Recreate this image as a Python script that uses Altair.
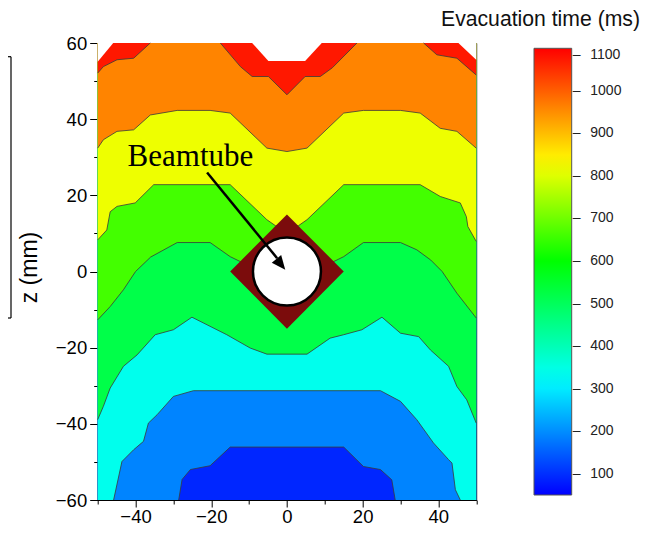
import altair as alt
import pandas as pd

# ---------------- data ----------------
X_DOMAIN = [-50, 50]
Z_DOMAIN = [-60, 60]
X_MAJOR = [-40, -20, 0, 20, 40]
X_MINOR = [-50, -30, -10, 10, 30, 50]
Z_MAJOR = [-60, -40, -20, 0, 20, 40, 60]
Z_MINOR = [-50, -30, -10, 10, 30, 50]

# colour bar (ms)
CBAR_TITLE = "Evacuation time (ms)"
CBAR_DOMAIN = [50, 320, 600, 830, 1100]
CBAR_COLORS = ["#0000ff", "#00ffff", "#00ff00", "#ffff00", "#ff0000"]
CBAR_TICKS = [100, 200, 300, 400, 500, 600, 700, 800, 900, 1000, 1100]

# contour levels (ms) and the value of the band lying above each contour
LEVELS = [150, 300, 450, 600, 750, 900, 1050]
FLOOR_VALUE = 90
BAND_VALUES = [190, 340, 520, 660, 815, 960, 1075]

# contour lines (x mm, z mm), one or more segments per level
C150 = [([-28.6, -27.7, -25.5, -20.3, -15, 15, 20.2, 24.7, 27.7, 28.6],
         [-60, -54.6, -52, -51, -46.1, -46.1, -51.2, -52, -54.7, -60])]
C300 = [([-45.8, -43.6, -40.5, -37.9, -36.6, -34.3, -30, -24.7, 24.7, 30, 34.3, 38.7, 42.7, 43.6, 44.5, 45.8],
         [-60, -49.9, -46.8, -44.6, -39.8, -37.6, -32.8, -31.3, -31.3, -34.1, -38.9, -45, -49.4, -50.3, -57.3, -60])]
C450 = [([-50, -48.5, -46.7, -43.2, -39.6, -34.8, -30, -25.1, -21.1, -15.9, -9.7, -5.3, 5.3, 11.4, 15, 19.8,
          25.1, 30, 34.8, 37.9, 42.7, 44.9, 47.5, 50],
         [-38.9, -35.4, -30.6, -24.9, -21.9, -16.6, -15.3, -12, -14, -16.6, -20.1, -21.7, -21.7, -17.5, -16.6, -15.3,
          -12, -16.2, -17.1, -20.6, -24.9, -30.2, -33.7, -39.8])]
C600 = [([-50, -46.7, -43.2, -40, -36, -29, -20.3, -15, -11.5, 11.5, 15, 20.2, 30, 34.3, 38, 41, 44.9, 50],
         [-12.7, -9.2, -4.8, 0, 3.8, 7.6, 7.6, 3.9, 2.2, 2.2, 3.9, 7.6, 7.6, 5.7, 3, 0, -5.7, -12.2])]
C750 = [([-50, -47.6, -46.7, -44.9, -40.1, -35.2, -15, -5.3, -3, 3, 5.3, 15, 35.2, 40.5, 45.8, 47.4, 47.8, 50],
         [8.3, 10.9, 15.7, 17.1, 18, 22.8, 22.8, 13.6, 12, 12, 13.6, 22.8, 22.8, 19.7, 18, 14.4, 11.8, 7.9])]
C900 = [([-50, -48.5, -44.9, -40.5, -36.1, -29, -20.3, -15, -5.3, 0, 5.3, 15, 20.2, 30, 35.2, 40.5, 44.9, 50],
         [32.4, 34.6, 36.8, 37.2, 41.1, 42.3, 42.3, 41.6, 32.4, 31.5, 32.4, 41.6, 42.3, 42.3, 41.6, 37.6, 36.8, 32.4])]
C1050 = [([-50, -48.5, -44.9, -40.5, -36.1], [52.1, 53.8, 55.6, 56, 60]),
         ([-17.6, -12.3, -9.2, -4.9, 0, 4.8, 8.8, 12, 18.5], [60, 53.8, 51.2, 51.2, 46.4, 51.2, 51.2, 53.5, 60]),
         ([36.1, 39.6, 44.9, 50], [60, 56.9, 56, 51.6])]
CONTOURS = [C150, C300, C450, C600, C750, C900, C1050]

# regions above the colour range (left white)
OVER = [([-50, -45.9], [55.1, 60]),
        ([-9.2, -4.9, 4.8, 9.2], [60, 55.3, 55.3, 60]),
        ([45.3, 50], [60, 55.6])]

# beam tube: square holder (rotated) and the tube itself
HOLDER_X = [-15, 0, 15]
HOLDER_LOW = [0, -15, 0]
HOLDER_HIGH = [0, 15, 0]
TUBE_X = [0]
TUBE_Z = [0]

# annotation
LABEL_TEXT = "Beamtube"
LABEL_X = [-25.5]
LABEL_Z = [27.6]
ARROW_START = (-21.1, 26.0)
ARROW_BASE = (-2.6, 3.5)
ARROW_TIP = (-0.45, 0.45)

# ---------------- build tables ----------------
def seg_table(segs, name, value=None, extend=False):
    rows = []
    for si, (xs, zs) in enumerate(segs):
        pts = list(zip(xs, zs))
        if extend:
            if pts[0][0] > X_DOMAIN[0]:
                pts = [(X_DOMAIN[0], pts[0][1])] + pts
            if pts[-1][0] < X_DOMAIN[1]:
                pts = pts + [(X_DOMAIN[1], pts[-1][1])]
        for i, (x, z) in enumerate(pts):
            row = {"x": x, "z": z, "top": Z_DOMAIN[1], "seg": f"{name}-{si}", "i": i}
            if value is not None:
                row["v"] = value
            rows.append(row)
    return pd.DataFrame(rows)


XS = alt.Scale(domain=X_DOMAIN, nice=False, zero=False)
ZS = alt.Scale(domain=Z_DOMAIN, nice=False, zero=False)
CS = alt.Scale(domain=CBAR_DOMAIN, range=CBAR_COLORS, interpolate="rgb")

LEG = alt.Legend(orient="none", legendX=436.3, legendY=5.3, direction="vertical",
                 gradientLength=446.7, gradientThickness=37.7, title=None, values=CBAR_TICKS,
                 labelFontSize=14, labelFont="Liberation Sans", labelColor="#222", format="d",
                 labelOffset=1, labelExpr="'\u2013\u2002\u2009' + datum.label",
                 gradientStrokeColor="#555", gradientStrokeWidth=1, labelOverlap=False)

AX_X_MAJOR = alt.Axis(values=X_MAJOR, tickSize=7, labelFontSize=18.5, labelPadding=0, title=None,
                      grid=False, orient="bottom", labelFlush=False, domainColor="black",
                      tickColor="black", labelColor="black")
AX_X_MINOR = alt.Axis(values=X_MINOR, tickSize=4, labels=False, domain=False, title=None,
                      grid=False, orient="bottom", tickColor="black")
AX_Z_MAJOR = alt.Axis(values=Z_MAJOR, tickSize=8, labelFontSize=18.5, labelPadding=3, title="z (mm)",
                      titleFontSize=23, titleFontWeight="normal", titlePadding=14, titleColor="black",
                      titleY=224, grid=False, orient="left", labelFlush=False, domainColor="black",
                      tickColor="black", labelColor="black")
AX_Z_MINOR = alt.Axis(values=Z_MINOR, tickSize=4, labels=False, domain=False, title=None,
                      grid=False, orient="left", tickColor="black")

layers = []

# floor band (below the first contour)
floor = seg_table([(X_DOMAIN, [Z_DOMAIN[0], Z_DOMAIN[0]])], "floor", FLOOR_VALUE)
layers.append(alt.Chart(floor).mark_area(opacity=1, line=False).encode(
    x=alt.X("x:Q", scale=XS, axis=AX_X_MAJOR),
    y=alt.Y("z:Q", scale=ZS, axis=AX_Z_MAJOR),
    y2="top:Q",
    color=alt.Color("v:Q", scale=CS, legend=LEG),
    detail="seg:N"))

# band above each contour
for lvl, segs, val in zip(LEVELS, CONTOURS, BAND_VALUES):
    t = seg_table(segs, f"b{lvl}", val, extend=(lvl in (150, 300)))
    layers.append(alt.Chart(t).mark_area(opacity=1).encode(
        x=alt.X("x:Q", scale=XS, axis=None),
        y=alt.Y("z:Q", scale=ZS, axis=None),
        y2="top:Q",
        color=alt.Color("v:Q", scale=CS, legend=LEG),
        detail="seg:N"))

# over range (white)
layers.append(alt.Chart(seg_table(OVER, "over")).mark_area(opacity=1, color="white").encode(
    x=alt.X("x:Q", scale=XS, axis=None), y=alt.Y("z:Q", scale=ZS, axis=None), y2="top:Q",
    detail="seg:N"))

# contour lines
lines = pd.concat([seg_table(s, f"c{l}") for l, s in zip(LEVELS, CONTOURS)], ignore_index=True)
layers.append(alt.Chart(lines).mark_line(color="#3a3a3a", strokeWidth=0.9, opacity=0.9).encode(
    x=alt.X("x:Q", scale=XS, axis=AX_X_MINOR),
    y=alt.Y("z:Q", scale=ZS, axis=AX_Z_MINOR),
    detail="seg:N", order="i:Q"))

# holder diamond
holder = pd.DataFrame({"x": HOLDER_X, "lo": HOLDER_LOW, "hi": HOLDER_HIGH})
layers.append(alt.Chart(holder).mark_area(color="#7b0c0c", opacity=1).encode(
    x=alt.X("x:Q", scale=XS, axis=None), y=alt.Y("lo:Q", scale=ZS, axis=None), y2="hi:Q"))

# tube
tube = pd.DataFrame({"x": TUBE_X, "z": TUBE_Z})
layers.append(alt.Chart(tube).mark_point(shape="circle", size=4624, filled=True, fill="white",
                                         stroke="black", strokeWidth=2.5, opacity=1).encode(
    x=alt.X("x:Q", scale=XS, axis=None), y=alt.Y("z:Q", scale=ZS, axis=None)))

# arrow
arrow = pd.DataFrame({"x": [ARROW_START[0]], "z": [ARROW_START[1]],
                      "x2": [ARROW_BASE[0]], "z2": [ARROW_BASE[1]]})
layers.append(alt.Chart(arrow).mark_rule(color="black", strokeWidth=2.5).encode(
    x=alt.X("x:Q", scale=XS, axis=None), y=alt.Y("z:Q", scale=ZS, axis=None),
    x2="x2:Q", y2="z2:Q"))
head = pd.DataFrame({"x": [ARROW_TIP[0]], "z": [ARROW_TIP[1]]})
layers.append(alt.Chart(head).mark_point(shape="M0,0L0.43,1L-0.43,1Z", size=784, angle=141.2,
                                         filled=True, color="black", opacity=1).encode(
    x=alt.X("x:Q", scale=XS, axis=None), y=alt.Y("z:Q", scale=ZS, axis=None)))

# label
lab = pd.DataFrame({"x": LABEL_X, "z": LABEL_Z, "t": [LABEL_TEXT]})
layers.append(alt.Chart(lab).mark_text(font="Liberation Serif", fontSize=31, align="center",
                                       baseline="alphabetic", color="black").encode(
    x=alt.X("x:Q", scale=XS, axis=None), y=alt.Y("z:Q", scale=ZS, axis=None), text="t:N"))

# colour bar title
ttl = pd.DataFrame({"t": [CBAR_TITLE]})
layers.append(alt.Chart(ttl).mark_text(font="Liberation Sans", fontSize=21.2, align="left",
                                       baseline="alphabetic", color="#111").encode(
    x=alt.value(343.3), y=alt.value(-17), text="t:N"))

# fragment of a neighbouring panel at the left edge
frag = pd.DataFrame({"k": [0]})
layers.append(alt.Chart(frag).mark_rule(color="black", strokeWidth=1.2).encode(
    x=alt.value(-86.7), y=alt.value(13.7), y2=alt.value(275)))
layers.append(alt.Chart(frag).mark_rule(color="black", strokeWidth=1.2).encode(
    x=alt.value(-90), x2=alt.value(-86.7), y=alt.value(13.7)))
layers.append(alt.Chart(frag).mark_rule(color="black", strokeWidth=1.2).encode(
    x=alt.value(-90), x2=alt.value(-86.7), y=alt.value(275)))

chart = alt.layer(*layers).resolve_axis(x="independent", y="independent").properties(
    width=378.5, height=457,
    autosize=alt.AutoSizeParams(type="none"),
    padding={"left": 89.7, "top": 35, "right": 180.8, "bottom": 27},
).configure_view(stroke="black", strokeWidth=1).configure_axis(
    labelFont="Liberation Sans", titleFont="Liberation Sans")

chart.save("out.html", embed_options={"renderer": "svg", "actions": False})
